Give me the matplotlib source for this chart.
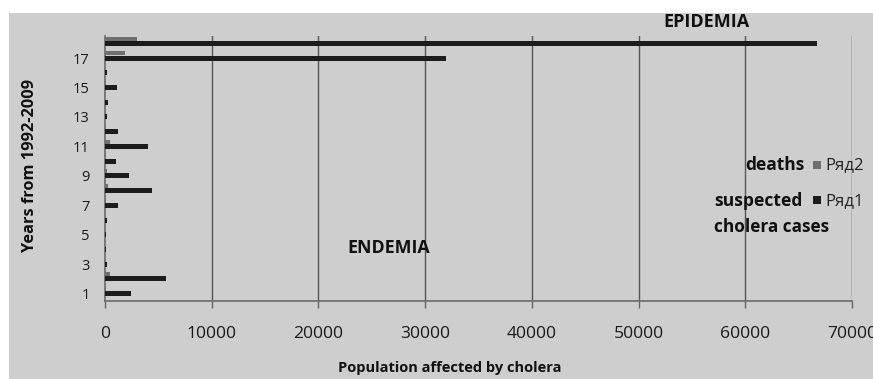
import matplotlib
matplotlib.use("Agg")
import matplotlib.pyplot as plt
import numpy as np
from matplotlib.patches import Rectangle

# Years 1992-2009 numbered 1..18
years = list(range(1, 19))
cases = [2400, 5700, 150, 100, 120, 150, 1200, 4400, 2250, 1000,
         4000, 1200, 200, 250, 1100, 200, 32000, 66700]   # Ряд1: suspected cholera cases
deaths = [100, 500, 30, 20, 30, 40, 100, 300, 150, 60,
          450, 80, 20, 30, 50, 20, 1900, 3000]             # Ряд2: deaths
x_ticks = [0, 10000, 20000, 30000, 40000, 50000, 60000, 70000]
y_ticks = [1, 3, 5, 7, 9, 11, 13, 15, 17]

W, H = 873, 379
fig = plt.figure(figsize=(W / 100, H / 100), dpi=100, facecolor="white")

def fx(px):
    return px / W

def fy(py):
    return 1 - py / H

# grey chart area (leaves a thin white margin top/left)
fig.patches.append(Rectangle((fx(9), 0), 1 - fx(9), fy(13), transform=fig.transFigure,
                             facecolor="#cecece", edgecolor="none", zorder=-5))

ax = fig.add_axes([fx(105), fy(301), fx(852) - fx(105), fy(36) - fy(301)])
ax.set_facecolor("none")
ax.set_zorder(2)

y = np.array(years, dtype=float)
bh = 0.34
ax.barh(y, cases, height=bh, color="#1c1c1c", zorder=3)
ax.barh(y + bh * 0.95, deaths, height=bh * 0.8, color="#6f6f6f", zorder=3)

ax.set_xlim(0, 70000)
ax.set_ylim(0.5, 18.5)
ax.set_xticks(x_ticks)
ax.set_xticklabels([str(v) for v in x_ticks], fontsize=12.6, family="Open Sans")
ax.set_yticks(y_ticks)
ax.set_yticklabels([str(v) for v in y_ticks], fontsize=10.5, family="Open Sans")
ax.tick_params(axis="x", length=5, width=1, color="#666666", pad=13, labelcolor="#1a1a1a")
ax.tick_params(axis="y", length=0, pad=11, labelcolor="#1a1a1a")

for v in x_ticks[1:]:
    ax.axvline(v, color="#555555", lw=1.0, zorder=2)

for s in ["top", "right"]:
    ax.spines[s].set_visible(False)
for s in ["left", "bottom"]:
    ax.spines[s].set_color("#6a6a6a")
    ax.spines[s].set_linewidth(1.2)

bold = dict(family="Open Sans", fontweight="bold", color="#111111")

fig.text(fx(706), fy(22), "EPIDEMIA", fontsize=13, ha="center", va="center", **bold)
fig.text(fx(389), fy(248), "ENDEMIA", fontsize=12.8, ha="center", va="center", **bold)
fig.text(fx(450), fy(368), "Population affected by cholera", fontsize=10.5, ha="center", va="center", **bold)
fig.text(fx(30), fy(165), "Years from 1992-2009", fontsize=11.8, rotation=90,
         ha="center", va="center", **bold)

# legend built from text and swatches
fig.text(fx(805), fy(165), "deaths", fontsize=12.5, ha="right", va="center", **bold)
fig.text(fx(803), fy(201), "suspected", fontsize=12.6, ha="right", va="center", **bold)
fig.text(fx(714), fy(227), "cholera cases", fontsize=12.4, ha="left", va="center", **bold)
fig.patches.append(Rectangle((fx(813), fy(169)), fx(8), 8 / H, transform=fig.transFigure,
                             facecolor="#6f6f6f", edgecolor="none", zorder=3))
fig.patches.append(Rectangle((fx(813), fy(204)), fx(8), 8 / H, transform=fig.transFigure,
                             facecolor="#1c1c1c", edgecolor="none", zorder=3))
fig.text(fx(825), fy(165), "Ряд2", fontsize=12, ha="left", va="center", family="Open Sans", color="#222222")
fig.text(fx(825), fy(201), "Ряд1", fontsize=12, ha="left", va="center", family="Open Sans", color="#222222")

fig.savefig("out.png", dpi=100, facecolor=fig.get_facecolor())
